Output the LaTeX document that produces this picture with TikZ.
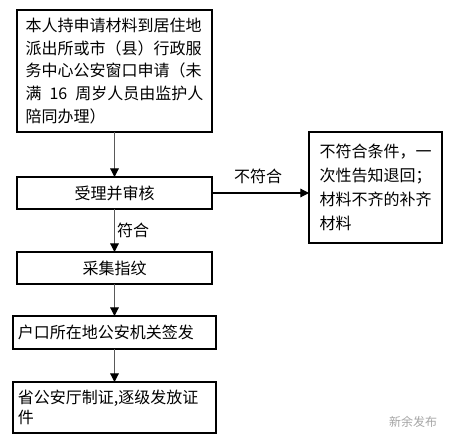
\documentclass[tikz,border=0pt]{standalone}
\usepackage{fontspec}
\setmainfont{Noto Sans CJK SC}
\usetikzlibrary{arrows.meta}
\begin{document}
\begin{tikzpicture}[x=0.75pt,y=-0.75pt,
  box/.style={draw=black,line width=0.8pt,inner sep=0pt,outer sep=0pt},
  txt/.style={font=\fontsize{12}{17}\selectfont},
  flow/.style={draw=black!65,line width=0.9pt,-{Triangle[length=6.5pt,width=6.5pt,color=black]}},
  lbl/.style={font=\fontsize{12}{14}\selectfont,inner sep=0pt}]
\fill[white] (0,0) rectangle (450,442);
\useasboundingbox (0,0) rectangle (450,442);
\node[box,minimum width=146.25pt,minimum height=91.5pt,txt,align=left] (b1) at (114.5,71)
  {本人持申请材料到居住地\\派出所或市（县）行政服\\务中心公安窗口申请（未\\满\hspace{6pt}16\hspace{6pt}周岁人员由监护人\\陪同办理）};
\node[box,minimum width=146.25pt,minimum height=24pt,txt] (b2) at (114.5,193) {受理并审核};
\node[box,minimum width=99.75pt,minimum height=83.25pt,font=\fontsize{12}{18}\selectfont,align=left] (b3) at (375.5,187.5)
  {不符合条件，一\\次性告知退回；\\材料不齐的补齐\\材料};
\node[box,minimum width=146.25pt,minimum height=24pt,txt] (b4) at (114.5,268) {采集指纹};
\node[box,minimum width=152.25pt,minimum height=24.75pt,txt,align=left,text width=145pt,inner xsep=3.5pt] (b5) at (114.5,332.5) {户口所在地公安机关签发};
\node[box,minimum width=152.25pt,minimum height=38.25pt,font=\fontsize{12}{15}\selectfont,align=left,text width=145pt,inner xsep=3.5pt] (b6) at (114.5,407.5) {省公安厅制证,逐级发放证\\件};
\draw[flow] (b1.south) -- (b2.north);
\draw[flow,draw=black] (b2.east) -- (b3.west |- b2.east);
\node[lbl] (l1) at (258,176) {不符合};
\draw[flow] (b2.south) -- (b4.north);
\node[lbl] (l2) at (133,230) {符合};
\draw[flow] (b4.south) -- (b5.north);
\draw[flow] (b5.south) -- (b6.north);
\node[font=\fontsize{9}{10}\selectfont,text=black!35,inner sep=0pt] (wm) at (413,422) {新余发布};
\end{tikzpicture}
\end{document}
